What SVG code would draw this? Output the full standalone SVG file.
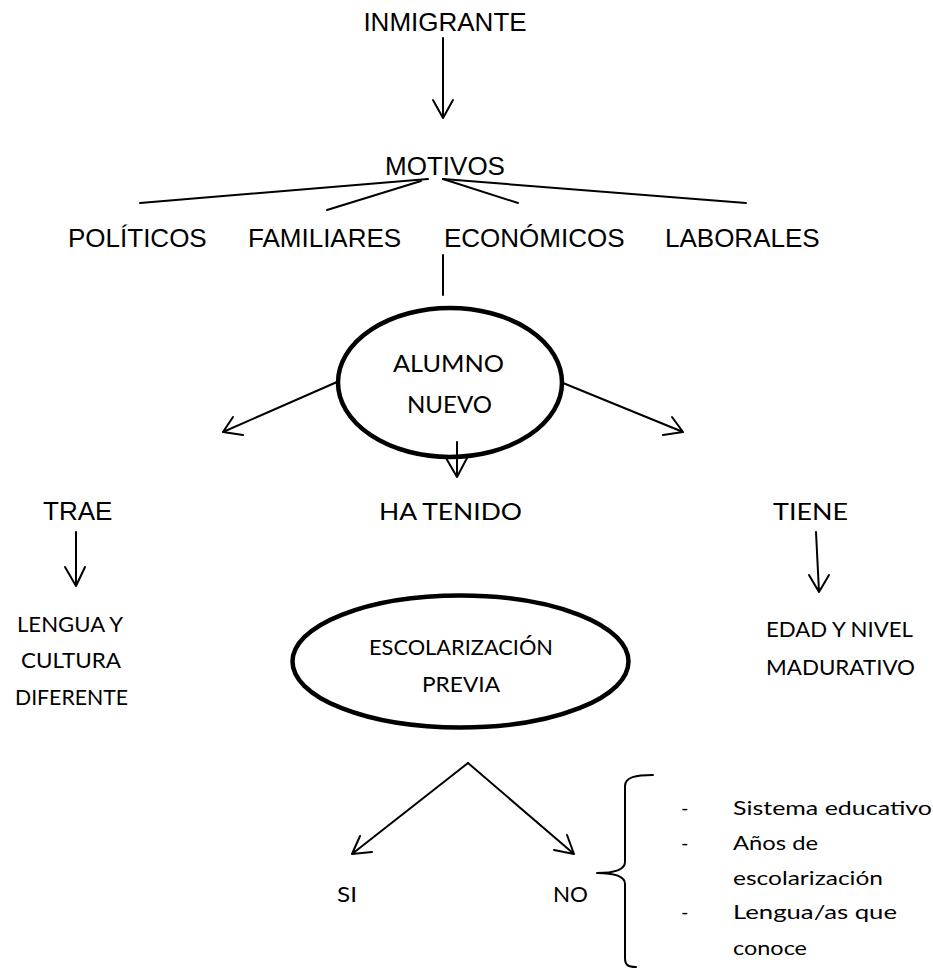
<svg xmlns="http://www.w3.org/2000/svg" width="933" height="969" viewBox="0 0 933 969">
<style>
.a{font-family:"Liberation Sans",Arial,sans-serif;font-size:26px;fill:#000}
.c{font-family:Lato,"Open Sans",sans-serif;fill:#000}
.ln{stroke:#000;stroke-width:2;fill:none;stroke-linecap:round;stroke-linejoin:round}
.el{stroke:#000;stroke-width:4.5;fill:none}
</style>
<rect width="933" height="969" fill="#fff"/>
<g id="connectors" class="ln">
  <path d="M443,38 L443,118 M433,100 L443,118 L453,100"/>
  <path d="M428,179 L140,203"/>
  <path d="M421,181 L327,210"/>
  <path d="M443,179 L518,203"/>
  <path d="M443,179 L746,203"/>
  <path d="M443,255 L443,295"/>
  <path d="M337,382 L223,432 M233,417 L223,432 L243,435"/>
  <path d="M563,383 L683,432 M672,417 L683,432 L663,435"/>
  <path d="M457,442 L457,477 M446,458 L457,477 L467,458"/>
  <path d="M76,532 L76,586 M65,567 L76,586 L85,567"/>
  <path d="M816,532 L819,592 M809,575 L819,592 L829,575"/>
  <path d="M468,763 L352,854 M360,836 L352,854 L372,852"/>
  <path d="M468,763 L574,854 M567,835 L574,854 L554,850"/>
  <path d="M653,775 C636,775 625,777 625,786 L625,862 C625,870 615,873 597,873 C615,873 625,876 625,884 L625,958 C625,965 628,967 636,967"/>
</g>
<g id="inmigrante"><text class="a" x="445" y="31" text-anchor="middle">INMIGRANTE</text></g>
<g id="motivos"><text class="a" x="445" y="175" text-anchor="middle">MOTIVOS</text></g>
<g id="politicos"><text class="a" x="68" y="247">POLÍTICOS</text></g>
<g id="familiares"><text class="a" x="248" y="247">FAMILIARES</text></g>
<g id="economicos"><text class="a" x="444" y="247">ECONÓMICOS</text></g>
<g id="laborales"><text class="a" x="665" y="247">LABORALES</text></g>
<g id="alumno-nuevo">
  <ellipse class="el" cx="450" cy="382.5" rx="112" ry="74.5"/>
  <text class="c" font-size="23.5" x="393" y="372" textLength="111" lengthAdjust="spacingAndGlyphs">ALUMNO</text>
  <text class="c" font-size="23.5" x="407" y="413" textLength="85" lengthAdjust="spacingAndGlyphs">NUEVO</text>
</g>
<g id="trae"><text class="a" x="43" y="520">TRAE</text></g>
<g id="ha-tenido"><text class="c" font-size="23.5" x="379" y="520" textLength="143" lengthAdjust="spacingAndGlyphs">HA TENIDO</text></g>
<g id="tiene"><text class="c" font-size="23.5" x="773" y="520" textLength="75" lengthAdjust="spacingAndGlyphs">TIENE</text></g>
<g id="lengua-cultura">
  <text class="c" font-size="21" x="17" y="632" textLength="106" lengthAdjust="spacingAndGlyphs">LENGUA Y</text>
  <text class="c" font-size="21" x="21" y="668" textLength="100" lengthAdjust="spacingAndGlyphs">CULTURA</text>
  <text class="c" font-size="21" x="15" y="705" textLength="113" lengthAdjust="spacingAndGlyphs">DIFERENTE</text>
</g>
<g id="escolarizacion">
  <ellipse class="el" cx="460.5" cy="661.5" rx="168" ry="66" stroke-width="4"/>
  <text class="c" font-size="22" x="369" y="655" textLength="184" lengthAdjust="spacingAndGlyphs">ESCOLARIZACIÓN</text>
  <text class="c" font-size="22" x="422" y="692" textLength="78" lengthAdjust="spacingAndGlyphs">PREVIA</text>
</g>
<g id="edad">
  <text class="c" font-size="21" x="766" y="637" textLength="147" lengthAdjust="spacingAndGlyphs">EDAD Y NIVEL</text>
  <text class="c" font-size="21" x="766" y="675" textLength="149" lengthAdjust="spacingAndGlyphs">MADURATIVO</text>
</g>
<g id="si"><text class="c" font-size="22" x="337" y="902" textLength="20" lengthAdjust="spacingAndGlyphs">SI</text></g>
<g id="no"><text class="c" font-size="22" x="553" y="902" textLength="35" lengthAdjust="spacingAndGlyphs">NO</text></g>
<g id="lista">
  <text class="c" font-size="20" x="681" y="815">-</text>
  <text class="c" font-size="20" x="733" y="815" textLength="199" lengthAdjust="spacingAndGlyphs">Sistema educativo</text>
  <text class="c" font-size="20" x="681" y="850">-</text>
  <text class="c" font-size="20" x="733" y="850" textLength="85" lengthAdjust="spacingAndGlyphs">Años de</text>
  <text class="c" font-size="20" x="733" y="885" textLength="150" lengthAdjust="spacingAndGlyphs">escolarización</text>
  <text class="c" font-size="20" x="681" y="919">-</text>
  <text class="c" font-size="20" x="733" y="919" textLength="164" lengthAdjust="spacingAndGlyphs">Lengua/as que</text>
  <text class="c" font-size="20" x="733" y="955" textLength="74" lengthAdjust="spacingAndGlyphs">conoce</text>
</g>
</svg>
